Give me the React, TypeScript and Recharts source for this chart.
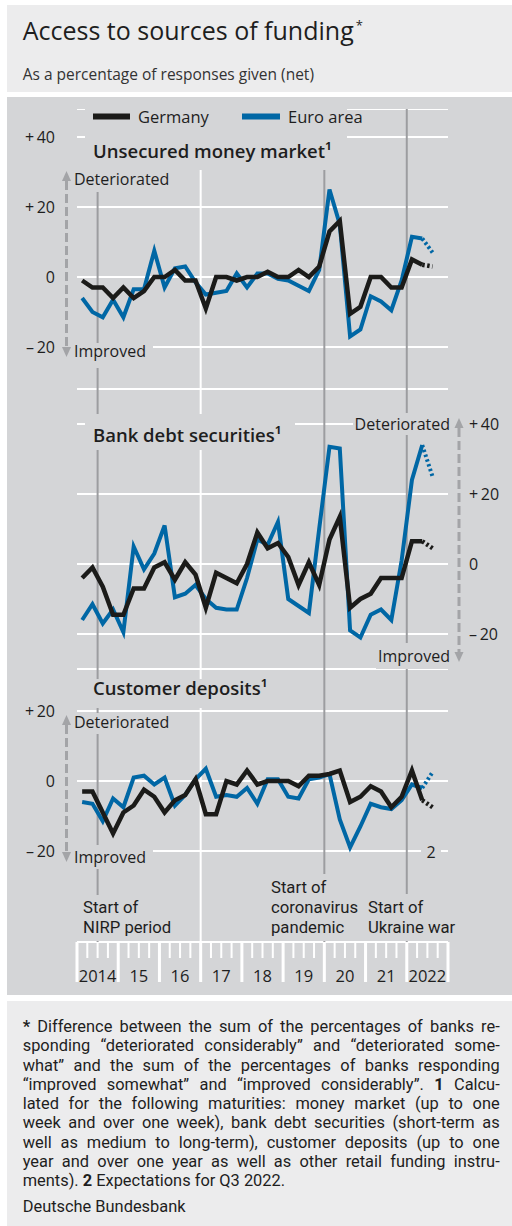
import React from "react";
import { LineChart, Line, XAxis, YAxis, CartesianGrid, ReferenceLine } from "recharts";

const FONT = '"Open Sans", "Noto Sans", sans-serif';
const NOTE_FONT = 'Roboto, "Open Sans", sans-serif';
const INK = "#1e1e1e";
const GERMANY = "#1b1b19";
const EURO = "#0067a5";
const PANEL = "#d4d5d7";
const LIGHT = "#ececed";
const EVENT = "#9c9da0";
const ARROW = "#a3a4a7";

const years = [2014, 2015, 2016, 2017, 2018, 2019, 2020, 2021, 2022];
const yearLabels = ["2014", "15", "16", "17", "18", "19", "20", "21", "2022"];
// 2014 Q1 ... 2022 Q3 (Q3 2022 = expectation)
const quarters = years.flatMap((y) => [1, 2, 3, 4].map((q) => `${y} Q${q}`)).slice(0, 35);

// realised values, 2014 Q1 – 2022 Q2
const moneyGermany = [-1, -3, -3, -6, -3, -6, -4, 0, 0, 2, -1, -1, -9, 0, 0, -1, 0, 0, 1.5, 0, 0, 2, 0, 3, 13, 16, -10.5, -8.5, 0, 0, -3, -3, 5, 3.5];
const moneyEuro = [-6, -10, -11.5, -6.5, -11.5, -3.5, -3.5, 7.5, -3, 2.5, 3, -1.5, -5, -4.5, -4, 1, -3, 1, 1, -0.5, -1, -2.5, -4, 2, 25, 15, -17, -15, -5.5, -7, -9.5, -1, 11.5, 11];
const bankGermany = [-4, -1, -6.5, -14.5, -14.5, -7, -7, -1, 0.5, -4.5, 0.5, -3, -12.5, -2.5, -4, -5.5, 0, 9, 4.5, 6, 2, -6, 0.5, -6, 7, 13.5, -12.5, -10, -8.5, -4, -4, -4, 6.5, 6.5];
const bankEuro = [-16, -11.5, -17, -13, -19.5, 5, -1.5, 3, 11, -9.5, -8.5, -6, -10, -12.5, -13, -13, -4, 7, 5.5, 12, -10, -12, -14, 10, 33.5, 33, -19, -21, -14.5, -13, -16, 1, 24, 34];
const depositsGermany = [-3, -3, -9, -15, -9, -7, -2.5, -4.5, -9, -5.5, -4, 0.5, -9.5, -9.5, 0, -1, 3, -1, 0, 0, 0, -1.5, 1.5, 1.5, 2, 3, -6, -4.5, -1.5, -3, -7.5, -4.5, 3, -5.5];
const depositsEuro = [-6, -6.5, -11.5, -5, -7.5, 1, 1.5, -1, 1, -7, -4, 0.5, 3.5, -4.5, -4, -4.5, -2, -6.5, 0.5, 0.5, -4.5, -5, 0.5, 1, 2, -11, -19, -13, -6.5, -7.5, -8, -5.5, -1, -2];
// expectations for Q3 2022: money market, bank debt securities, customer deposits
const expectedGermany = [3, 4.5, -7.5];
const expectedEuro = [7, 25, 2.5];

const eventDates = [2014.5, 2020, 2022];
const markerYears = [2017];

const quarterTime = (q: string) => {
  const [y, n] = q.split(" Q");
  return Number(y) + (Number(n) - 0.5) / 4;
};

type Row = { t: number; de: number | null; eu: number | null; deExp: number | null; euExp: number | null };

function buildRows(de: number[], eu: number[], deExp: number, euExp: number): Row[] {
  const last = de.length - 1;
  return quarters.map((q, i) => ({
    t: quarterTime(q),
    de: i <= last ? de[i] : null,
    eu: i <= last ? eu[i] : null,
    deExp: i === last ? de[i] : i === last + 1 ? deExp : null,
    euExp: i === last ? eu[i] : i === last + 1 ? euExp : null,
  }));
}

const moneyRows = buildRows(moneyGermany, moneyEuro, expectedGermany[0], expectedEuro[0]);
const bankRows = buildRows(bankGermany, bankEuro, expectedGermany[1], expectedEuro[1]);
const depositRows = buildRows(depositsGermany, depositsEuro, expectedGermany[2], expectedEuro[2]);

const CHART_W = 505;
const LEFT_W = 70;
const RIGHT_W = 64;
const YEAR_W = (CHART_W - LEFT_W - RIGHT_W) / years.length;
const quarterTicks = Array.from({ length: years.length * 4 + 1 }, (_, k) => years[0] + k / 4);

const fmt = (v: number) => (v > 0 ? `+\u2009${v}` : v < 0 ? `\u2013\u2009${-v}` : "0");

function QuarterTick(props: any) {
  const { x, y, payload } = props;
  const v: number = payload.value;
  const year = Math.round(v);
  const major = Math.abs(v - year) < 1e-6;
  const idx = years.indexOf(year);
  return (
    <g>
      <rect x={x - (major ? 1.5 : 1)} y={y} width={major ? 3 : 2} height={major ? 40 : 16} fill="#fff" />
      {major && idx >= 0 && (
        <text x={x + YEAR_W / 2} y={y + 40} textAnchor="middle" fontSize={16.5} fill={INK} fontFamily={FONT}>
          {yearLabels[idx]}
        </text>
      )}
    </g>
  );
}

type PanelProps = {
  rows: Row[];
  top: number;
  height: number;
  domain: [number, number];
  ticks: number[];
  side: "left" | "right";
  withAxis?: boolean;
};

function Panel({ rows, top, height, domain, ticks, side, withAxis }: PanelProps) {
  const left = side === "left";
  return (
    <div style={{ position: "absolute", left: 7, top }}>
      <LineChart
        width={CHART_W}
        height={height}
        data={rows}
        margin={{ top: 0, bottom: 0, left: left ? 0 : LEFT_W, right: left ? RIGHT_W : 0 }}
      >
        <CartesianGrid horizontal vertical={false} stroke="#fff" strokeWidth={2} />
        <XAxis
          dataKey="t"
          type="number"
          domain={[2014, 2023]}
          ticks={quarterTicks}
          interval={0}
          hide={!withAxis}
          height={53}
          axisLine={false}
          tickLine={false}
          tickSize={0}
          tickMargin={0}
          tick={QuarterTick}
        />
        <YAxis
          orientation={side}
          width={left ? LEFT_W : RIGHT_W}
          domain={domain}
          ticks={ticks}
          interval={0}
          axisLine={false}
          tickLine={false}
          tickSize={0}
          tickMargin={left ? 22 : 21}
          tickFormatter={fmt}
          tick={{ fill: INK, fontSize: 16, fontFamily: FONT }}
        />
        {markerYears.map((d) => (
          <ReferenceLine key={d} x={d} stroke="#fff" strokeWidth={2} />
        ))}
        {eventDates.map((d) => (
          <ReferenceLine key={d} x={d} stroke={EVENT} strokeWidth={2} />
        ))}
        <Line dataKey="eu" type="linear" stroke={EURO} strokeWidth={4} dot={false} isAnimationActive={false} />
        <Line dataKey="euExp" type="linear" stroke={EURO} strokeWidth={4} strokeDasharray="2.5 2.5" dot={false} isAnimationActive={false} />
        <Line dataKey="de" type="linear" stroke={GERMANY} strokeWidth={4.5} dot={false} isAnimationActive={false} />
        <Line dataKey="deExp" type="linear" stroke={GERMANY} strokeWidth={4.5} strokeDasharray="2.5 2.5" dot={false} isAnimationActive={false} />
      </LineChart>
    </div>
  );
}

function Arrow({ x, top, bottom }: { x: number; top: number; bottom: number }) {
  return (
    <g fill={ARROW}>
      <polygon points={`${x},${top} ${x - 4.5},${top + 10} ${x + 4.5},${top + 10}`} />
      <line x1={x} x2={x} y1={top + 10} y2={bottom - 10} stroke={ARROW} strokeWidth={3} strokeDasharray="9 4" />
      <polygon points={`${x},${bottom} ${x - 4.5},${bottom - 10} ${x + 4.5},${bottom - 10}`} />
    </g>
  );
}

function Box({ x, y, w, h }: { x: number; y: number; w: number; h: number }) {
  return <rect x={x} y={y} width={w} height={h} fill={PANEL} />;
}

function Overlay() {
  const t = { fontFamily: FONT, fill: INK, fontSize: 16 } as const;
  const ev = { fontFamily: NOTE_FONT, fill: INK, fontSize: 16.7 } as const;
  const head = { fontFamily: FONT, fill: INK, fontSize: 18.5, fontWeight: 600 } as const;
  return (
    <svg width={512} height={1226} style={{ position: "absolute", left: 0, top: 0, pointerEvents: "none" }}>
      {/* panel 1 */}
      <Box x={85} y={109} w={262} h={61} />
      <line x1={93} x2={130} y1={116.5} y2={116.5} stroke={GERMANY} strokeWidth={6} />
      <text x={138} y={123} {...t} fontSize={16.5}>Germany</text>
      <line x1={242} x2={280} y1={116.5} y2={116.5} stroke={EURO} strokeWidth={6} />
      <text x={288} y={123} {...t} fontSize={16.5}>Euro area</text>
      <text x={93} y={158} {...head}>Unsecured money market¹</text>
      <Box x={72} y={170} w={98} h={22} />
      <text x={74} y={185} {...t}>Deteriorated</text>
      <Box x={72} y={343} w={81} h={25} />
      <text x={74} y={357} {...t}>Improved</text>
      <Arrow x={66.5} top={171} bottom={357} />

      {/* panel 2 */}
      <Box x={85} y={414} w={210} h={36} />
      <text x={93} y={442} {...head}>Bank debt securities¹</text>
      <Box x={353} y={413} w={97} h={22} />
      <text x={450} y={430} textAnchor="end" {...t}>Deteriorated</text>
      <Box x={376} y={643} w={74} h={26} />
      <text x={450} y={662} textAnchor="end" {...t}>Improved</text>
      <Arrow x={459} top={418} bottom={662} />

      {/* panel 3 */}
      <Box x={85} y={679} w={195} h={29} />
      <text x={93} y={695} {...head}>Customer deposits¹</text>
      <Box x={72} y={713} w={98} h={21} />
      <text x={74} y={728} {...t}>Deteriorated</text>
      <Box x={72} y={845} w={81} h={24} />
      <text x={74} y={862.5} {...t}>Improved</text>
      <Box x={421} y={845} w={20} h={20} />
      <text x={431} y={858} textAnchor="middle" {...t}>2</text>
      <Arrow x={66.5} top={715} bottom={862} />

      {/* events */}
      <Box x={80} y={895} w={97} h={46} />
      <text x={83} y={913} {...ev}>Start of</text>
      <text x={83} y={933} {...ev}>NIRP period</text>
      <Box x={268} y={874} w={94} h={67} />
      <text x={271} y={893} {...ev}>Start of</text>
      <text x={271} y={913} {...ev}>coronavirus</text>
      <text x={271} y={933} {...ev}>pandemic</text>
      <Box x={365} y={894} w={99} h={47} />
      <text x={368} y={913} {...ev}>Start of</text>
      <text x={368} y={933} {...ev}>Ukraine war</text>
    </svg>
  );
}

const noteLine: React.CSSProperties = { textAlign: "justify", textAlignLast: "justify" };

export default function App() {
  return (
    <div style={{ position: "absolute", left: 0, top: 0, width: 512, height: 1226, fontFamily: FONT, color: INK }}>
      <div style={{ position: "absolute", left: 7, top: 5, width: 505, height: 87, background: LIGHT }} />
      <div style={{ position: "absolute", left: 22.7, top: 15, fontSize: 25, lineHeight: "30px", whiteSpace: "nowrap" }}>
        Access to sources of funding
        <span style={{ fontSize: 13, position: "relative", top: -10, marginLeft: 2 }}>*</span>
      </div>
      <div style={{ position: "absolute", left: 22.7, top: 64, fontSize: 15.5, lineHeight: "20px", color: "#333", whiteSpace: "nowrap" }}>
        As a percentage of responses given (net)
      </div>

      <div style={{ position: "absolute", left: 7, top: 97, width: 505, height: 898, background: PANEL }} />
      <Panel rows={moneyRows} top={109} height={280} domain={[-32, 48]} ticks={[-20, 0, 20, 40]} side="left" />
      <Panel rows={bankRows} top={389} height={280} domain={[-30, 50]} ticks={[-20, 0, 20, 40]} side="right" />
      <Panel rows={depositRows} top={669} height={326} domain={[-46, 32]} ticks={[-20, 0, 20]} side="left" withAxis />
      <Overlay />

      <div style={{ position: "absolute", left: 7, top: 1001, width: 505, height: 225, background: LIGHT }} />
      <div style={{ position: "absolute", left: 22.7, top: 1017, width: 477, fontFamily: NOTE_FONT, fontSize: 16.4, lineHeight: "19.3px" }}>
        <div style={noteLine}><b>*</b> Difference between the sum of the percentages of banks re-</div>
        <div style={noteLine}>sponding “deteriorated considerably” and “deteriorated some-</div>
        <div style={noteLine}>what” and the sum of the percentages of banks responding</div>
        <div style={noteLine}>“improved somewhat” and “improved considerably”. <b>1</b> Calcu-</div>
        <div style={noteLine}>lated for the following maturities: money market (up to one</div>
        <div style={noteLine}>week and over one week), bank debt securities (short-term as</div>
        <div style={noteLine}>well as medium to long-term), customer deposits (up to one</div>
        <div style={noteLine}>year and over one year as well as other retail funding instru-</div>
        <div>ments). <b>2</b> Expectations for Q3 2022.</div>
        <div style={{ marginTop: 6 }}>Deutsche Bundesbank</div>
      </div>
    </div>
  );
}
